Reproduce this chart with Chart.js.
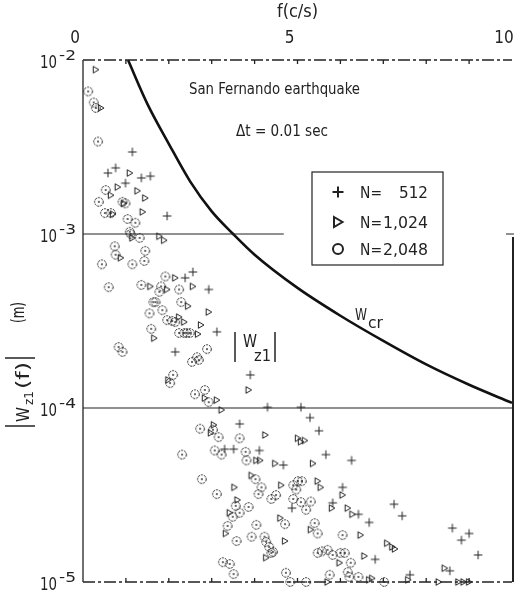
<!DOCTYPE html>
<html>
<head>
<meta charset="utf-8">
<script src="https://cdn.jsdelivr.net/npm/chart.js@4.4.1/dist/chart.umd.min.js"></script>
<style>
  html, body { margin: 0; padding: 0; background: #fff; }
</style>
</head>
<body>
<canvas id="chart" width="519" height="593"></canvas>
<script>
// values: f in c/s, |W| in m
const f512 = [1.15, 0.76, 0.58, 1.36, 1.57, 0.99, 1.96, 2.38, 2.56, 2.93,
  3.12, 2.15, 3.90, 4.30, 5.08, 3.65, 3.30, 3.51, 5.29, 5.50,
  4.11, 4.67, 5.66, 6.26, 6.05, 4.87, 5.82, 6.42, 6.67, 6.81,
  7.25, 7.44, 8.61, 9.00, 8.82, 9.21, 8.55, 7.62];
const w512 = [2.96e-3, 2.4e-3, 2.24e-3, 2.1e-3, 2.15e-3, 1.96e-3, 1.27e-3, 5.6e-4, 6.05e-4, 4.8e-4,
  2.74e-4, 2.1e-4, 1.55e-4, 1.01e-4, 1.01e-4, 8.1e-5, 5.8e-5, 5.8e-5, 8.8e-5, 7.4e-5,
  5.7e-5, 4.7e-5, 5.4e-5, 5.0e-5, 3.5e-5, 2.66e-5, 2.85e-5, 2.45e-5, 2.2e-5, 1.35e-5,
  2.8e-5, 2.4e-5, 2.04e-5, 1.9e-5, 1.74e-5, 1.43e-5, 1.16e-5, 1.1e-5];

const f1024 = [0.30, 0.42, 1.09, 0.81, 0.65, 1.27, 1.45, 0.95, 0.70, 1.39,
  1.15, 1.78, 1.89, 0.88, 2.15, 1.57, 1.96, 2.56, 2.45, 2.93,
  2.24, 2.36, 2.75, 2.68, 1.66, 1.99, 2.84, 3.12, 3.86, 3.23,
  3.05, 2.98, 3.53, 3.60, 3.42, 3.33, 4.25, 5.01, 5.08, 5.17,
  4.04, 4.13, 4.48, 5.36, 3.93, 4.62, 5.47, 5.54, 6.05, 5.80,
  6.17, 6.28, 4.60, 5.31, 6.47, 4.71, 4.27, 5.98, 6.56, 5.70,
  6.67, 6.74, 7.09, 7.21, 7.27, 8.43, 7.58, 8.29, 8.75, 8.87, 9.00];
const w1024 = [8.8e-3, 5.3e-3, 2.24e-3, 1.86e-3, 1.67e-3, 1.77e-3, 1.61e-3, 1.5e-3, 1.3e-3, 1.34e-3,
  9.5e-4, 9.7e-4, 9.2e-4, 7.3e-4, 5.6e-4, 5.0e-4, 4.8e-4, 5.0e-4, 3.85e-4, 3.56e-4,
  3.33e-4, 3.12e-4, 3.0e-4, 2.66e-4, 2.52e-4, 1.45e-4, 1.14e-4, 1.11e-4, 1.27e-4, 9.75e-5,
  8.0e-5, 7.2e-5, 3.5e-5, 2.96e-5, 2.5e-5, 1.9e-5, 7.0e-5, 6.7e-5, 6.4e-5, 6.5e-5,
  5.0e-5, 5.0e-5, 4.8e-5, 4.8e-5, 4.1e-5, 3.6e-5, 3.8e-5, 3.5e-5, 3.16e-5, 2.66e-5,
  2.66e-5, 2.45e-5, 2.33e-5, 2.0e-5, 1.86e-5, 1.72e-5, 1.38e-5, 1.29e-5, 1.41e-5, 1.0e-5,
  1.03e-5, 1.05e-5, 1.67e-5, 1.59e-5, 1.55e-5, 1.2e-5, 1.03e-5, 1.0e-5, 1.0e-5, 1.0e-5, 1.0e-5];

const f2048 = [0.12, 0.25, 0.30, 0.35, 0.53, 0.37, 0.92, 0.99, 0.51, 0.65,
  1.04, 1.22, 1.09, 1.11, 1.32, 0.74, 1.45, 0.76, 0.44, 1.15,
  1.43, 1.92, 0.60, 1.36, 1.82, 2.24, 1.78, 1.69, 1.64, 2.29,
  1.55, 1.85, 1.96, 2.08, 2.15, 2.24, 2.36, 2.42, 2.49, 1.59,
  0.83, 0.92, 2.89, 2.66, 2.54, 2.70, 2.10, 2.03, 2.84, 2.61,
  2.93, 2.73, 3.03, 3.16, 3.65, 2.31, 3.07, 3.23, 2.77, 3.12,
  3.56, 3.49, 3.65, 3.37, 3.58, 3.26, 3.42, 3.51, 3.79, 3.81,
  4.02, 4.16, 4.09, 4.90, 5.01, 5.10, 4.97, 4.39, 4.50, 4.90,
  5.08, 5.31, 5.20, 3.86, 4.04, 4.71, 5.47, 5.40, 6.05, 3.93,
  4.23, 4.27, 4.34, 4.43, 5.47, 5.57, 5.70, 5.82, 6.00, 6.10,
  6.24, 4.39, 4.73, 5.75, 6.17, 6.21, 6.42, 4.83, 5.20, 7.02];
const w2048 = [6.6e-3, 5.7e-3, 5.3e-3, 3.4e-3, 1.79e-3, 1.53e-3, 1.53e-3, 1.5e-3, 1.32e-3, 1.32e-3,
  1.22e-3, 1.16e-3, 1.03e-3, 1.0e-3, 9.5e-4, 8.5e-4, 8.0e-4, 7.6e-4, 6.7e-4, 6.7e-4,
  7.0e-4, 5.7e-4, 4.95e-4, 5.1e-4, 5.0e-4, 4.8e-4, 4.65e-4, 4.06e-4, 4.06e-4, 4.06e-4,
  3.5e-4, 3.65e-4, 3.2e-4, 3.16e-4, 3.12e-4, 2.7e-4, 2.7e-4, 2.7e-4, 2.7e-4, 2.85e-4,
  2.24e-4, 2.1e-4, 2.18e-4, 1.96e-4, 1.84e-4, 1.89e-4, 1.55e-4, 1.39e-4, 1.27e-4, 1.2e-4,
  1.08e-4, 7.6e-5, 7.5e-5, 6.8e-5, 6.7e-5, 5.4e-5, 5.7e-5, 5.4e-5, 3.9e-5, 3.2e-5,
  2.74e-5, 2.37e-5, 2.5e-5, 2.1e-5, 1.72e-5, 1.3e-5, 1.27e-5, 1.11e-5, 5.6e-5, 5.0e-5,
  3.9e-5, 3.5e-5, 3.2e-5, 3.6e-5, 3.8e-5, 3.8e-5, 3.4e-5, 3.0e-5, 3.16e-5, 3.0e-5,
  2.88e-5, 2.9e-5, 2.6e-5, 2.7e-5, 2.13e-5, 2.15e-5, 1.9e-5, 2.18e-5, 1.86e-5, 1.82e-5,
  1.82e-5, 1.7e-5, 1.59e-5, 1.49e-5, 1.47e-5, 1.5e-5, 1.53e-5, 1.43e-5, 1.47e-5, 1.47e-5,
  1.29e-5, 1.47e-5, 1.13e-5, 1.1e-5, 1.14e-5, 1.07e-5, 1.07e-5, 1.0e-5, 1.0e-5, 1.0e-5];

// critical curve W_cr
const crF = [1.05, 1.5, 2.0, 2.5, 3.0, 3.5, 4.0, 5.0, 6.0, 7.0, 8.0, 9.0, 10.0];
const crW = [1.0e-2, 5.6e-3, 3.3e-3, 2.0e-3, 1.35e-3, 1.0e-3, 7.6e-4, 4.9e-4, 3.39e-4, 2.43e-4, 1.78e-4, 1.36e-4, 1.07e-4];

const yTicks = [1e-2, 1e-3, 1e-4, 1e-5];
const yExps = ['-2', '-3', '-4', '-5'];
const legendLabels = ['512', '1,024', '2,048'];

const INK = '#222';
const FONT = '"DejaVu Sans Condensed", "Liberation Sans Narrow", "DejaVu Sans", sans-serif';

function pts(xs, ys) { return xs.map((x, i) => ({ x: x, y: ys[i] })); }

function marker(kind, big) {
  const s = big ? 16 : 12, m = s / 2;
  const c = document.createElement('canvas');
  c.width = s; c.height = s;
  const g = c.getContext('2d');
  g.strokeStyle = INK; g.fillStyle = INK;
  g.lineWidth = big ? 2 : 1;
  if (kind === 'circle') {
    if (!big) g.setLineDash([2.2, 0.9]);
    g.beginPath(); g.arc(m, m, big ? 5 : 4.3, 0, Math.PI * 2); g.stroke();
    if (!big) { g.setLineDash([]); g.beginPath(); g.arc(m, m, 0.9, 0, Math.PI * 2); g.fill(); }
  } else if (kind === 'tri') {
    const r = big ? 5 : 3.3;
    g.beginPath(); g.moveTo(m - r * 0.8, m - r); g.lineTo(m + r * 0.9, m); g.lineTo(m - r * 0.8, m + r); g.closePath(); g.stroke();
  } else {
    const r = big ? 5.5 : 4.3;
    g.beginPath(); g.moveTo(m - r, m); g.lineTo(m + r, m); g.moveTo(m, m - r); g.lineTo(m, m + r); g.stroke();
  }
  return c;
}

function put(ctx, str, x, y, size, w, align) {
  ctx.save();
  ctx.font = size + 'px ' + FONT;
  const mw = ctx.measureText(str).width;
  ctx.translate(x, y);
  ctx.scale(w ? w / mw : 1, 1);
  ctx.textAlign = align || 'left';
  ctx.textBaseline = 'alphabetic';
  ctx.fillStyle = INK;
  ctx.fillText(str, 0, 0);
  ctx.restore();
}

function line(ctx, x1, y1, x2, y2, lw, dash) {
  ctx.save();
  ctx.strokeStyle = INK; ctx.lineWidth = lw;
  ctx.setLineDash(dash || []);
  ctx.beginPath(); ctx.moveTo(x1, y1); ctx.lineTo(x2, y2); ctx.stroke();
  ctx.restore();
}

const paper = {
  id: 'paper',
  beforeDraw(chart) {
    const ctx = chart.ctx;
    ctx.save(); ctx.fillStyle = '#fff'; ctx.fillRect(0, 0, chart.width, chart.height); ctx.restore();
  },
  afterDraw(chart) {
    const ctx = chart.ctx, a = chart.chartArea;
    const xs = chart.scales.x, ys = chart.scales.y;

    // frame
    line(ctx, a.left, a.top, a.right, a.top, 1.3, [12, 3, 3, 3]);
    line(ctx, a.left, a.bottom, a.right, a.bottom, 1.3, [12, 3, 3, 3]);
    line(ctx, a.left, a.top, a.left, a.bottom, 1.3);
    const y3 = ys.getPixelForValue(1e-3), y4 = ys.getPixelForValue(1e-4);
    line(ctx, a.right + 1, y3 + 3, a.right + 1, a.bottom, 2);
    line(ctx, a.right - 6, y3, a.right + 2, y3, 1);
    for (let k = 1; k < 10; k++) {
      const px = xs.getPixelForValue(k);
      line(ctx, px, a.top, px, a.top + 4, 1.3);
      line(ctx, px, a.bottom, px, a.bottom - 4, 1.3);
    }
    line(ctx, a.left, y3, xs.getPixelForValue(4.68), y3, 1);
    line(ctx, a.left, y4, a.right, y4, 1.2);

    // y tick labels 10^n
    yTicks.forEach((v, i) => {
      const py = ys.getPixelForValue(v);
      put(ctx, '10', 57, py + 8, 18, 17, 'right');
      put(ctx, yExps[i], 59, py, 14, 17);
    });

    // y axis title, rotated
    ctx.save();
    ctx.translate(0, 427);
    ctx.rotate(-Math.PI / 2);
    put(ctx, 'W', 5, 29, 17, 15);
    put(ctx, 'z1', 22, 33, 13, 14);
    put(ctx, '(f)', 38, 29, 17, 27);
    put(ctx, '(m)', 104, 24, 17, 21);
    ctx.restore();
    line(ctx, 5, 426, 35, 426, 1.5);
    line(ctx, 5, 358, 35, 358, 1.5);

    // annotations
    put(ctx, 'San Fernando earthquake', 189, 94, 16, 171);
    put(ctx, '\u0394t = 0.01 sec', 236, 136, 16, 92);
    put(ctx, 'W', 355, 320, 16, 12);
    put(ctx, 'cr', 368, 328, 15, 15);
    line(ctx, 235, 332, 235, 362, 1.5);
    line(ctx, 275, 332, 275, 362, 1.5);
    put(ctx, 'W', 243, 347, 17, 14);
    put(ctx, 'z1', 254, 361, 16, 17);

    // legend box
    ctx.save();
    ctx.strokeStyle = INK; ctx.lineWidth = 1.2;
    ctx.strokeRect(312, 172, 131, 93);
    ctx.restore();
    const rowsY = [192, 222, 249];
    const kinds = ['plus', 'tri', 'circle'];
    const numW = [29, 45, 45];
    rowsY.forEach((ry, i) => {
      ctx.drawImage(marker(kinds[i], true), 330, ry - 8);
      put(ctx, 'N=', 360, ry + 6, 16, 22);
      put(ctx, legendLabels[i], 428, ry + 6, 16, numW[i], 'right');
    });
  }
};

new Chart(document.getElementById('chart'), {
  type: 'scatter',
  data: {
    datasets: [
      { type: 'line', label: 'Wcr', data: pts(crF, crW), borderColor: '#111', borderWidth: 2.6,
        pointRadius: 0, cubicInterpolationMode: 'monotone', fill: false, order: 0 },
      { label: 'N=512', data: pts(f512, w512), pointStyle: marker('plus'), pointRadius: 6 },
      { label: 'N=1,024', data: pts(f1024, w1024), pointStyle: marker('tri'), pointRadius: 6 },
      { label: 'N=2,048', data: pts(f2048, w2048), pointStyle: marker('circle'), pointRadius: 6 }
    ]
  },
  options: {
    responsive: false,
    animation: false,
    devicePixelRatio: 1,
    clip: false,
    layout: { padding: { left: 0, right: 3, top: 0, bottom: 11 } },
    plugins: { legend: { display: false }, tooltip: { enabled: false } },
    scales: {
      x: {
        type: 'linear', position: 'top', min: 0, max: 10,
        grid: { display: false, drawTicks: false },
        border: { display: false },
        ticks: {
          stepSize: 1, autoSkip: false, maxRotation: 0, labelOffset: -8, padding: 11,
          color: INK, font: { family: FONT, size: 17 },
          callback: v => (v % 5 === 0 ? String(v) : '')
        },
        title: { display: true, text: 'f(c/s)', color: INK, font: { family: FONT, size: 18 },
          padding: { top: 2, bottom: 2 } },
        afterFit: s => { s.height = 60; s.paddingLeft = 0; s.paddingRight = 0; }
      },
      y: {
        type: 'logarithmic', min: 1e-5, max: 1e-2,
        grid: { display: false, drawTicks: false },
        border: { display: false },
        ticks: { display: false },
        afterFit: s => { s.width = 83; }
      }
    }
  },
  plugins: [paper]
});
</script>
</body>
</html>
